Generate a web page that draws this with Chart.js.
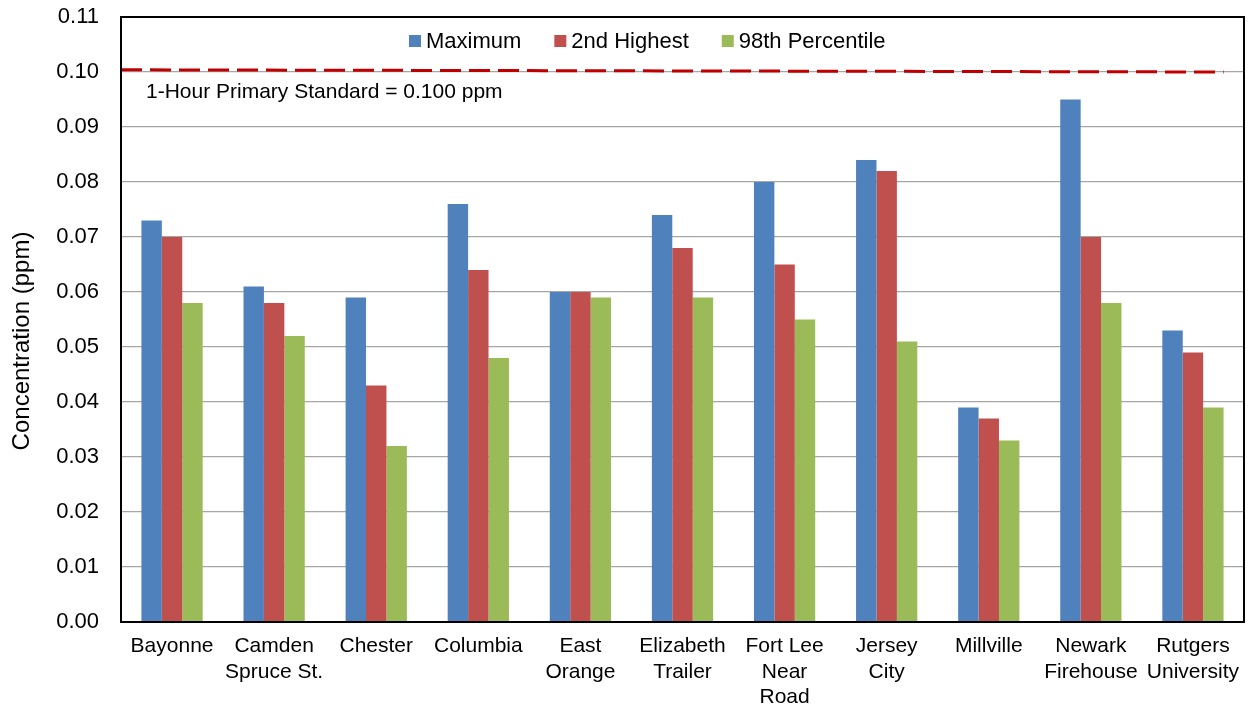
<!DOCTYPE html>
<html>
<head>
<meta charset="utf-8">
<script src="https://cdn.jsdelivr.net/npm/chart.js@4"></script>
<style>
  html, body { margin: 0; padding: 0; background: #fff; }
  #wrap { width: 1252px; height: 707px; }
</style>
</head>
<body>
<div id="wrap"><canvas id="c" width="1252" height="707"></canvas></div>
<script>
// Monitoring sites (x-axis labels, split onto lines)
const sites = [
  ["Bayonne"],
  ["Camden", "Spruce St."],
  ["Chester"],
  ["Columbia"],
  ["East", "Orange"],
  ["Elizabeth", "Trailer"],
  ["Fort Lee", "Near", "Road"],
  ["Jersey", "City"],
  ["Millville"],
  ["Newark", "Firehouse"],
  ["Rutgers", "University"]
];

// 1-hour concentrations, ppm
const maximum     = [0.073, 0.061, 0.059, 0.076, 0.060, 0.074, 0.080, 0.084, 0.039, 0.095, 0.053];
const secondHigh  = [0.070, 0.058, 0.043, 0.064, 0.060, 0.068, 0.065, 0.082, 0.037, 0.070, 0.049];
const pct98       = [0.058, 0.052, 0.032, 0.048, 0.059, 0.059, 0.055, 0.051, 0.033, 0.058, 0.039];

// Primary standard line (ppm) and its label
const standardStart = 0.1004;
const standardEnd = 0.1000;
const standardLabel = "1-Hour Primary Standard = 0.100 ppm";

// y-axis range and step
const yMin = 0, yMax = 0.11, yStep = 0.01;
const yTitle = "Concentration (ppm)";

const FONT = "'Liberation Sans', Arial, sans-serif";

// Dashed standard line, its caption, the legend row and the y title
const overlay = {
  id: 'overlay',
  afterDatasetsDraw(chart) {
    const { ctx, chartArea: a } = chart;
    const x = chart.scales.x, y = chart.scales.y;
    const catW = (a.right - a.left) / sites.length;
    const xEnd = x.getPixelForValue(sites.length - 1) + catW * 0.3;

    ctx.save();
    ctx.strokeStyle = '#C00000';
    ctx.lineWidth = 3;
    ctx.setLineDash([21, 8]);
    ctx.beginPath();
    ctx.moveTo(a.left, y.getPixelForValue(standardStart));
    ctx.lineTo(xEnd, y.getPixelForValue(standardEnd));
    ctx.stroke();
    ctx.setLineDash([]);

    ctx.font = "21px " + FONT;
    ctx.fillStyle = '#000';
    ctx.textBaseline = 'middle';
    ctx.textAlign = 'left';
    ctx.fillText(standardLabel, a.left + 25, y.getPixelForValue(0.1) + 20);

    // legend
    ctx.font = "22px " + FONT;
    let lx = a.left + 288;
    const ly = a.top + 24;
    chart.data.datasets.forEach((ds) => {
      ctx.fillStyle = ds.backgroundColor;
      ctx.fillRect(lx, ly - 6, 12, 12);
      lx += 17;
      ctx.fillStyle = '#000';
      ctx.fillText(ds.label, lx, ly + 1);
      lx += ctx.measureText(ds.label).width + 33;
    });

    // y-axis title
    ctx.translate(22, 341);
    ctx.rotate(-Math.PI / 2);
    ctx.textAlign = 'center';
    ctx.font = "24px " + FONT;
    ctx.fillText(yTitle, 0, 0);
    ctx.restore();
  },
  afterDraw(chart) {
    const { ctx, chartArea: a } = chart;
    ctx.save();
    ctx.strokeStyle = '#000';
    ctx.lineWidth = 2;
    ctx.strokeRect(a.left, a.top, a.right - a.left, a.bottom - a.top);
    ctx.restore();
  }
};

new Chart(document.getElementById('c'), {
  type: 'bar',
  data: {
    labels: sites,
    datasets: [
      { label: 'Maximum', data: maximum, backgroundColor: '#4F81BD' },
      { label: '2nd Highest', data: secondHigh, backgroundColor: '#C0504D' },
      { label: '98th Percentile', data: pct98, backgroundColor: '#9BBB59' }
    ]
  },
  options: {
    responsive: false,
    animation: false,
    devicePixelRatio: 1,
    layout: { padding: { top: 17, right: 8, left: 0, bottom: 0 } },
    datasets: { bar: { barPercentage: 1.0, categoryPercentage: 0.6, borderWidth: 0 } },
    plugins: {
      legend: { display: false },
      tooltip: { enabled: false }
    },
    scales: {
      x: {
        grid: { display: false, drawTicks: false },
        border: { display: false },
        ticks: {
          font: { family: FONT, size: 21, lineHeight: 1.2 },
          color: '#000', maxRotation: 0, autoSkip: false, padding: 12
        },
        afterFit(s) { s.height = 85; s.paddingLeft = 0; s.paddingRight = 0; s.paddingTop = 0; s.paddingBottom = 0; }
      },
      y: {
        min: yMin, max: yMax,
        grid: { color: '#a6a6a6', lineWidth: 1.3, drawTicks: false },
        border: { display: false },
        ticks: {
          stepSize: yStep,
          font: { family: FONT, size: 22 },
          color: '#000',
          padding: 22,
          callback: (v) => v.toFixed(2)
        },
        afterFit(s) { s.width = 121; s.paddingTop = 0; s.paddingBottom = 0; }
      }
    }
  },
  plugins: [overlay]
});
</script>
</body>
</html>
